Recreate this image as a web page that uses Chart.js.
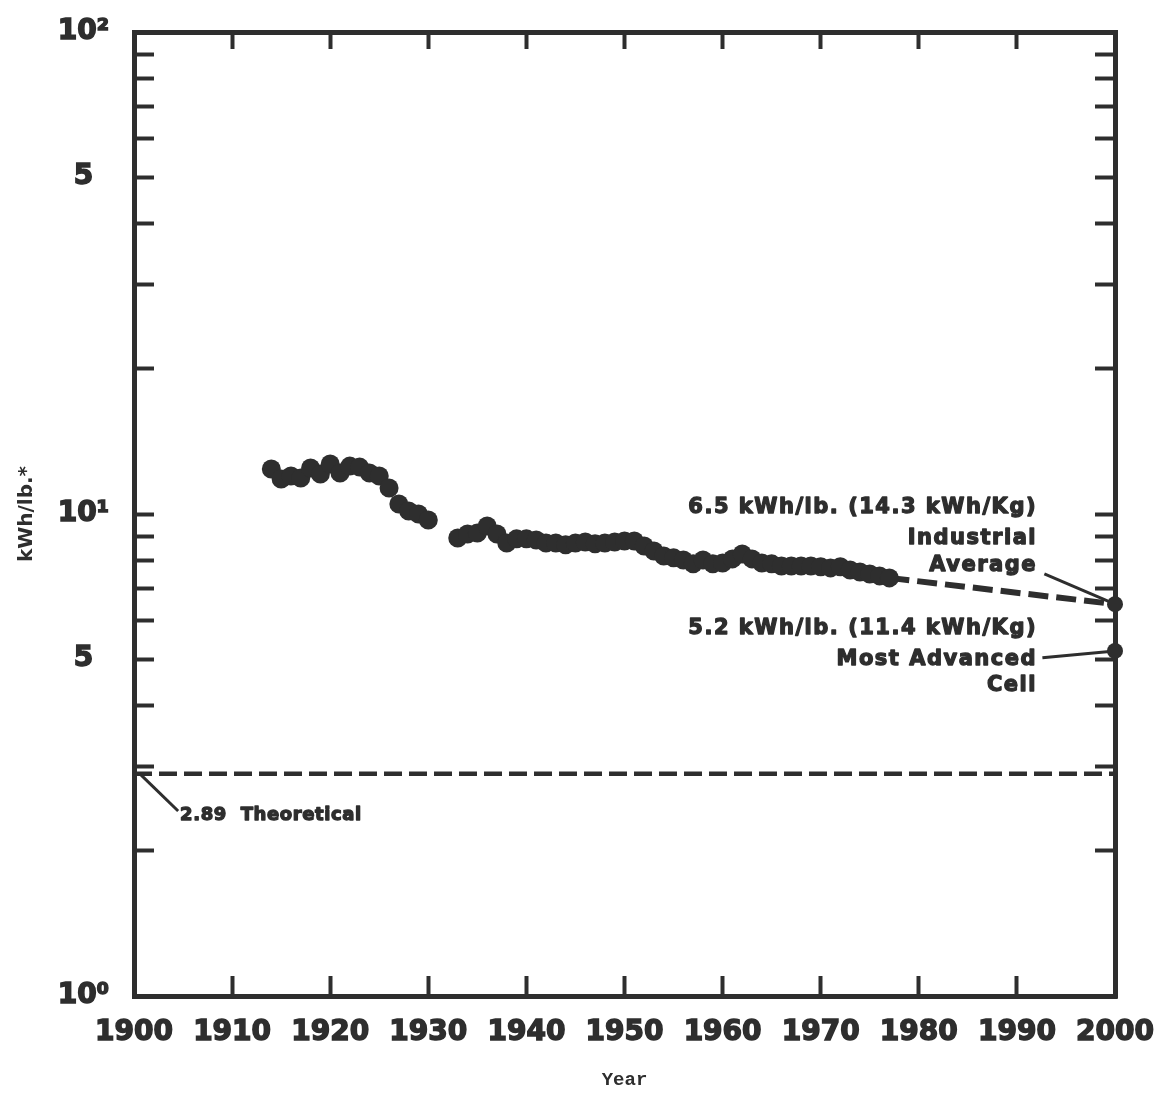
<!DOCTYPE html>
<html lang="en">
<head>
<meta charset="UTF-8">
<title>kWh per lb, 1900-2000</title>
<script src="https://cdn.jsdelivr.net/npm/chart.js@4.4.1/dist/chart.umd.min.js"></script>
<style>
  body { margin: 0; background: #fff; }
  #chart { display: block; }
</style>
</head>
<body>
<canvas id="chart" width="1154" height="1096"></canvas>
<script>
const INK = '#2e2e2e';

// yearly energy use, kWh per lb (no readings for 1931-1932)
const years = [
  1914, 1915, 1916, 1917, 1918, 1919, 1920, 1921, 1922, 1923, 1924, 1925, 1926, 1927, 1928, 1929, 1930,
  1933, 1934, 1935, 1936, 1937, 1938, 1939, 1940, 1941, 1942, 1943, 1944, 1945, 1946, 1947, 1948, 1949,
  1950, 1951, 1952, 1953, 1954, 1955, 1956, 1957, 1958, 1959, 1960, 1961, 1962, 1963, 1964, 1965, 1966,
  1967, 1968, 1969, 1970, 1971, 1972, 1973, 1974, 1975, 1976, 1977
];
const kwhPerLb = [
  12.40, 11.82, 11.99, 11.87, 12.46, 12.10, 12.70, 12.16, 12.57, 12.51, 12.16, 11.99, 11.32, 10.49, 10.14, 10.00, 9.72,
  8.92, 9.09, 9.13, 9.44, 9.09, 8.71, 8.88, 8.88, 8.83, 8.71, 8.71, 8.63, 8.71, 8.75, 8.67, 8.71, 8.75,
  8.79, 8.79, 8.58, 8.38, 8.18, 8.11, 8.03, 7.88, 8.03, 7.88, 7.91, 8.07, 8.26, 8.07, 7.91, 7.88, 7.80,
  7.80, 7.80, 7.80, 7.77, 7.73, 7.77, 7.65, 7.58, 7.51, 7.44, 7.37
];

// projection to 2000
const projectionYears = [1977, 2000];
const projectionValues = [7.37, 6.5];
const industrialAverage2000 = 6.5;
const advancedCell2000 = 5.2;
const theoretical = 2.89;

// axis ticks
const xTickStep = 10;
const yTickMarks = [1, 2, 3, 4, 5, 6, 7, 8, 9, 10, 20, 30, 40, 50, 60, 70, 80, 90, 100];
const yTickValues = [1, 5, 10, 50, 100];
const yTickLabels = ['10\u2070', '5', '10\u00b9', '5', '10\u00b2'];

const notes = [
  { text: '6.5 kWh/lb. (14.3 kWh/Kg)', year: 1992.05, value: 10.29, align: 'right' },
  { text: 'Industrial', year: 1992.05, value: 8.88, align: 'right' },
  { text: 'Average', year: 1992.05, value: 7.80, align: 'right' },
  { text: '5.2 kWh/lb. (11.4 kWh/Kg)', year: 1992.05, value: 5.78, align: 'right' },
  { text: 'Most Advanced', year: 1992.05, value: 5.00, align: 'right' },
  { text: 'Cell', year: 1992.05, value: 4.40, align: 'right' },
  { text: '2.89  Theoretical', year: 1904.7, value: 2.37, align: 'left', size: 18, spacing: 0.6 }
];

// heavy annotation text (stroked to thicken the glyphs)
const noteText = {
  id: 'noteText',
  afterDatasetsDraw(chart) {
    const { ctx, scales: { x, y } } = chart;
    ctx.save();
    ctx.fillStyle = INK;
    ctx.strokeStyle = INK;
    ctx.lineWidth = 1.3;
    ctx.lineJoin = 'round';
    ctx.textBaseline = 'middle';
    notes.forEach(n => {
      ctx.font = `bold ${n.size || 21}px "DejaVu Sans"`;
      ctx.letterSpacing = (n.spacing ?? 1.5) + 'px';
      ctx.textAlign = n.align;
      const px = x.getPixelForValue(n.year), py = y.getPixelForValue(n.value);
      ctx.fillText(n.text, px, py);
      ctx.strokeText(n.text, px, py);
    });
    ctx.restore();
  }
};

const frame = { display: true, width: 5, color: INK };
function inwardTicks(len) {
  return { drawOnChartArea: false, drawTicks: true, tickLength: -len, tickWidth: 4, tickColor: INK };
}
// fixed box size, and no extra room for labels hanging past the ends
function fixBox(w, h) {
  return s => {
    if (w) s.width = w;
    if (h) s.height = h;
    s.paddingTop = s.paddingBottom = s.paddingLeft = s.paddingRight = 0;
  };
}
function leader(xs, ys) {
  return {
    type: 'line', data: xs.map((v, i) => ({ x: v, y: ys[i] })),
    borderColor: INK, borderWidth: 3, pointRadius: 0, clip: false
  };
}
const tickFont = { family: 'DejaVu Sans', weight: 'bold', size: 28 };

new Chart('chart', {
  type: 'scatter',
  data: {
    datasets: [
      {
        data: years.map((yr, i) => ({ x: yr, y: kwhPerLb[i] })),
        backgroundColor: INK, borderWidth: 0, pointRadius: 9.5
      },
      {
        data: [{ x: 2000, y: industrialAverage2000 }, { x: 2000, y: advancedCell2000 }],
        backgroundColor: INK, borderWidth: 0, pointRadius: 8, clip: false
      },
      {
        type: 'line',
        data: projectionYears.map((yr, i) => ({ x: yr, y: projectionValues[i] })),
        borderColor: INK, borderWidth: 6, borderDash: [20, 8], pointRadius: 0
      },
      {
        type: 'line',
        data: [{ x: 1900, y: theoretical }, { x: 2000, y: theoretical }],
        borderColor: INK, borderWidth: 4.5, borderDash: [18, 7], pointRadius: 0
      },
      leader([1992.8, 2000], [7.51, industrialAverage2000]),
      leader([1992.6, 2000], [5.03, advancedCell2000]),
      leader([1904.5, 1900.6], [2.42, theoretical])
    ]
  },
  options: {
    responsive: false,
    animation: false,
    layout: { padding: 0 },
    plugins: { legend: { display: false }, tooltip: { enabled: false } },
    scales: {
      x: {
        type: 'linear', position: 'bottom', min: 1900, max: 2000,
        border: frame, grid: inwardTicks(20),
        ticks: {
          stepSize: xTickStep, autoSkip: false, maxRotation: 0, padding: 40, color: INK,
          font: tickFont, textStrokeColor: INK, textStrokeWidth: 1.5,
          callback: v => String(v)
        },
        title: {
          display: true, text: 'Year', color: INK,
          font: { family: 'Liberation Mono', weight: 'bold', size: 19 },
          padding: { top: 0, bottom: 4 }
        },
        afterFit: fixBox(0, 100)
      },
      x2: {
        type: 'linear', position: 'top', min: 1900, max: 2000,
        border: frame, grid: inwardTicks(17),
        ticks: { stepSize: xTickStep, display: false },
        afterFit: fixBox(0, 32)
      },
      y: {
        type: 'logarithmic', position: 'left', min: 1, max: 100,
        border: frame, grid: inwardTicks(20),
        afterBuildTicks: s => { s.ticks = yTickMarks.map(v => ({ value: v })); },
        ticks: {
          autoSkip: false, padding: 45, crossAlign: 'center', color: INK,
          font: tickFont, textStrokeColor: INK, textStrokeWidth: 1.5,
          callback: v => {
            const i = yTickValues.findIndex(t => Math.abs(t - v) < 1e-6);
            return i >= 0 ? yTickLabels[i] : '';
          }
        },
        title: {
          display: true, text: 'kWh/lb.*', color: INK,
          font: { family: 'DejaVu Sans', weight: 'bold', size: 20 },
          padding: { top: 15, bottom: 0 }
        },
        afterFit: fixBox(134, 0)
      },
      y2: {
        type: 'logarithmic', position: 'right', min: 1, max: 100,
        border: frame, grid: inwardTicks(20),
        afterBuildTicks: s => { s.ticks = yTickMarks.map(v => ({ value: v })); },
        ticks: { display: false },
        afterFit: fixBox(39, 0)
      }
    }
  },
  plugins: [noteText]
});
</script>
</body>
</html>
